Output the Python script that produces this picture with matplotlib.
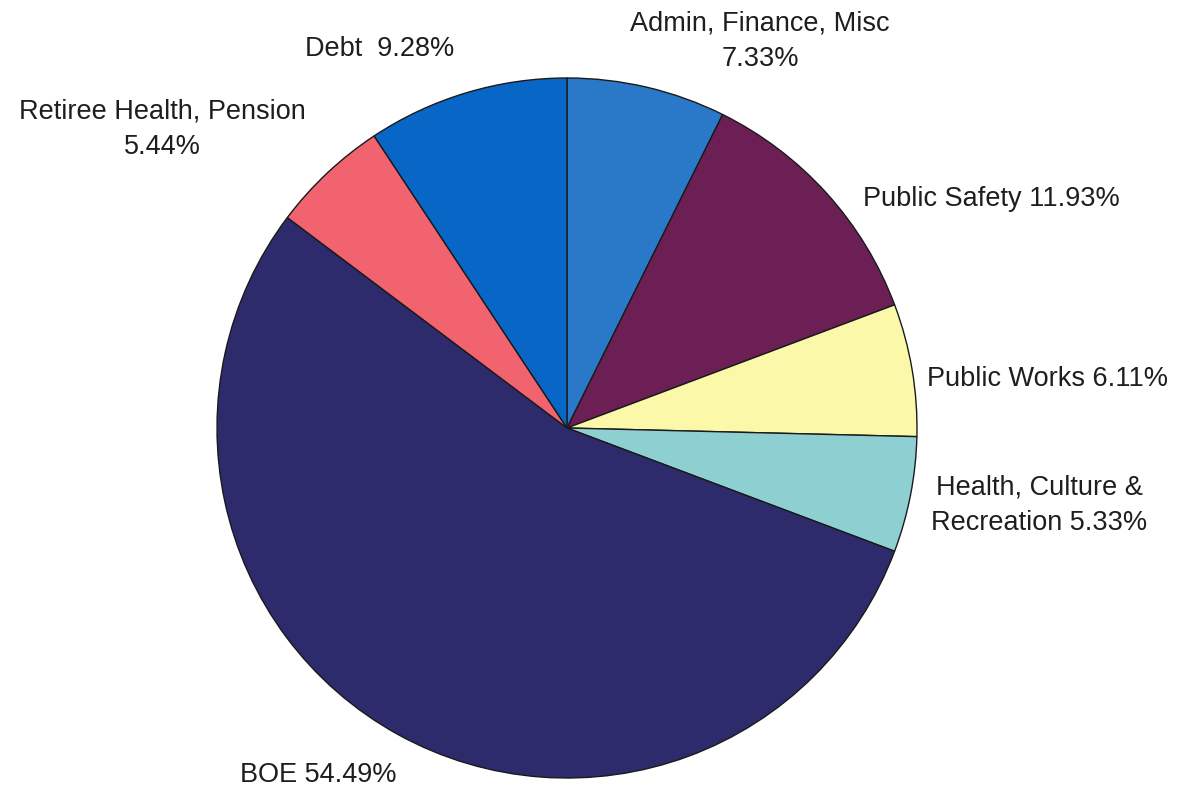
import matplotlib
matplotlib.use("Agg")
import matplotlib.pyplot as plt

# budget shares by category, clockwise from the top
categories = ["Admin, Finance, Misc", "Public Safety", "Public Works",
              "Health, Culture & Recreation", "BOE", "Retiree Health, Pension", "Debt"]
shares = [7.33, 11.93, 6.11, 5.33, 54.49, 5.44, 9.28]
colors = ["#2a78c8", "#6c1f55", "#fcf8aa", "#8ecfd2", "#2e2b6c", "#f0636f", "#0866c6"]

plt.rcParams["font.family"] = ["Liberation Sans", "DejaVu Sans"]

fig = plt.figure(figsize=(11.88, 7.87), dpi=100)
ax = fig.add_axes([0, 0, 1, 1])

ax.pie(shares, colors=colors, startangle=90, counterclock=False,
       center=(567, 359), radius=350, frame=True,
       wedgeprops=dict(edgecolor="#1a1a1a", linewidth=1.0))
ax.set_xlim(0, 1188)
ax.set_ylim(0, 787)
ax.set_aspect("equal")
ax.axis("off")

fs = 19.5
tc = "#1e1e1e"
ls = 1.45
ax.text(760, 776, "Admin, Finance, Misc\n7.33%", ha="center", va="top", fontsize=fs,
        color=tc, linespacing=ls)
ax.text(305, 738, "Debt  9.28%", ha="left", va="center", fontsize=fs, color=tc)
ax.text(162, 688, "Retiree Health, Pension\n5.44%", ha="center", va="top", fontsize=fs,
        color=tc, linespacing=ls)
ax.text(863, 588, "Public Safety 11.93%", ha="left", va="center", fontsize=fs, color=tc)
ax.text(927, 408, "Public Works 6.11%", ha="left", va="center", fontsize=fs, color=tc)
ax.text(1039, 312, "Health, Culture &\nRecreation 5.33%", ha="center", va="top",
        fontsize=fs, color=tc, linespacing=ls)
ax.text(240, 12, "BOE 54.49%", ha="left", va="center", fontsize=fs, color=tc)

fig.savefig("out.png", dpi=100)
